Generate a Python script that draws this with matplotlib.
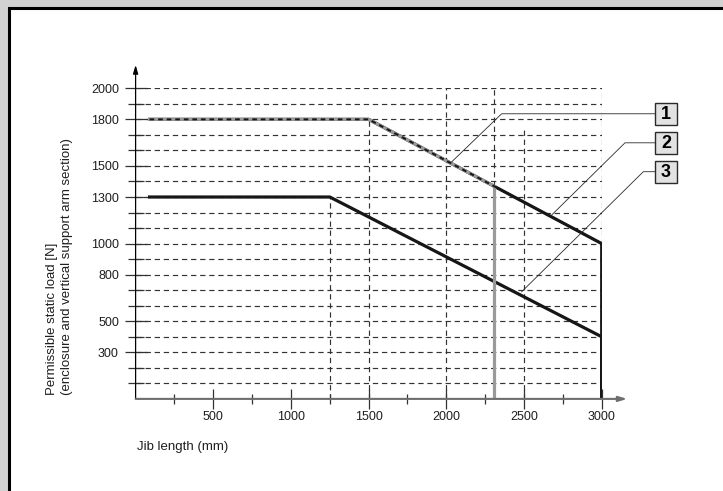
import matplotlib
matplotlib.use("Agg")
import matplotlib.pyplot as plt
from matplotlib.patches import Rectangle
from matplotlib.transforms import ScaledTranslation

plt.rcParams['font.family'] = ['Liberation Sans', 'DejaVu Sans']

# ---- data ----
curve1_x = [90, 1500, 2310, 2310]
curve1_y = [1800, 1800, 1368, 0]
curve2_x = [90, 1500, 3000, 3000]
curve2_y = [1800, 1800, 1000, 0]
curve3_x = [90, 1250, 3000, 3000]
curve3_y = [1300, 1300, 400, 0]

ytick_labels = [300, 500, 800, 1000, 1300, 1500, 1800, 2000]
ygrid_values = list(range(100, 2001, 100))
xtick_labels = [500, 1000, 1500, 2000, 2500, 3000]
xminor_ticks = [250, 750, 1250, 1750, 2250, 2750]

# vertical dashed guide lines: x, y_top, y_bottom
vguides_x = [1250, 1500, 2000, 2310, 2500, 3000]
vguides_top = [1300, 1800, 2000, 2000, 1750, 2000]
vguides_bot = [0, 0, 0, 1368, 0, 1000]

# callouts: label, box centre, elbow x, anchor point
callout_labels = ['1', '2', '3']
callout_box_x = [3414, 3414, 3414]
callout_box_y = [1836, 1649, 1463]
callout_elbow_x = [2356, 3150, 3268]
callout_anchor_x = [2035, 2678, 2485]
callout_anchor_y = [1527, 1184, 690]

xlabel = 'Jib length (mm)'
ylabel = 'Permissible static load [N]\n(enclosure and vertical support arm section)'

# ---- figure ----
W, H = 723, 491
fig = plt.figure(figsize=(W / 100, H / 100), dpi=100, facecolor='#d2d2d2')

# white panel with black border (left/top visible)
fig.patches.append(Rectangle((9 / W, -0.05), 1.1, (H - 8.5) / H + 0.05,
                             transform=fig.transFigure, facecolor='white',
                             edgecolor='black', linewidth=2.2, zorder=-5))

x0px, x1px = 135.6, 601.7
y0px, y1px = 398.9, 88.3
ax = fig.add_axes([x0px / W, 1 - y0px / H, (x1px - x0px) / W, (y0px - y1px) / H])
ax.set_xlim(0, 3000)
ax.set_ylim(0, 2000)
ax.patch.set_visible(False)
for s in ax.spines.values():
    s.set_visible(False)

grid_kw = dict(color='#333333', linewidth=0.85, dashes=(4.5, 3.2), zorder=1)
for v in ygrid_values:
    ax.plot([0, 3000], [v, v], **grid_kw)
for gx, gt, gb in zip(vguides_x, vguides_top, vguides_bot):
    ax.plot([gx, gx], [gb, gt], **grid_kw)

# curves
ax.plot(curve3_x, curve3_y, color='#161616', linewidth=2.3, zorder=3,
        solid_joinstyle='miter')
ax.plot(curve2_x, curve2_y, color='#161616', linewidth=2.3, zorder=3,
        solid_joinstyle='miter')
ax.plot(curve1_x, curve1_y, color='#9a9a9a', linewidth=2.3, zorder=4,
        solid_joinstyle='miter')
ax.plot(curve2_x[:3], curve2_y[:3], color='#161616', linewidth=1.4,
        dashes=(2.4, 2.0), zorder=5)

# axes lines with arrows
ax.annotate('', xy=(0, 2150), xytext=(0, 0), xycoords='data',
            arrowprops=dict(arrowstyle='-|>,head_length=0.5,head_width=0.15',
                            color='black', lw=0.9, shrinkA=0, shrinkB=0),
            annotation_clip=False, zorder=6)
ax.annotate('', xy=(3165, 0), xytext=(0, 0), xycoords='data',
            arrowprops=dict(arrowstyle='-|>,head_length=0.5,head_width=0.15',
                            color='#6e6e6e', lw=1.5, shrinkA=0, shrinkB=0),
            annotation_clip=False, zorder=6)

# ticks
ax.set_yticks(ytick_labels)
ax.set_yticklabels([str(v) for v in ytick_labels])
ax.set_yticks([v for v in ygrid_values if v not in ytick_labels], minor=True)
ax.set_xticks(xtick_labels)
ax.set_xticklabels([str(v) for v in xtick_labels])
ax.set_xticks(xminor_ticks, minor=True)
ax.tick_params(axis='y', which='major', direction='inout', length=16, width=0.9,
               color='#333333', labelsize=9, labelcolor='#1e1e1e', pad=4)
ax.tick_params(axis='y', which='minor', direction='inout', length=12, width=0.9,
               color='#333333')
ax.tick_params(axis='x', which='major', direction='inout', length=14, width=0.9,
               color='#333333', labelsize=9, labelcolor='#1e1e1e', pad=2)
ax.tick_params(axis='x', which='minor', direction='inout', length=7, width=0.9,
               color='#333333')

# axis labels
fig.text(136.7 / W, 1 - 446.7 / H, xlabel, ha='left', va='center',
         fontsize=9.5, color='#1e1e1e')
fig.text(59.5 / W, 1 - 395 / H, ylabel, rotation=90, ha='center', va='bottom',
         multialignment='left', fontsize=9.5, color='#1e1e1e', linespacing=1.25)

# callouts
box_in = 22 / 100
for lab, bx, by, ex, axx, ayy in zip(callout_labels, callout_box_x, callout_box_y,
                                     callout_elbow_x, callout_anchor_x, callout_anchor_y):
    trans = fig.dpi_scale_trans + ScaledTranslation(bx, by, ax.transData)
    ax.add_patch(Rectangle((-box_in / 2, -box_in / 2), box_in, box_in, transform=trans,
                           facecolor='#e2e2e2', edgecolor='#2a2a2a', linewidth=1.0,
                           clip_on=False, zorder=7))
    ax.text(0, -0.005, lab, transform=trans, ha='center', va='center',
            fontsize=13, fontweight='bold', color='black', zorder=8, clip_on=False)
    left_edge = bx - (box_in / 2) * 100 / ((x1px - x0px) / 3000)
    ax.plot([left_edge, ex, axx], [by, by, ayy], color='#2a2a2a', linewidth=0.6,
            clip_on=False, zorder=6)

fig.savefig('out.png', dpi=100, facecolor=fig.get_facecolor())
